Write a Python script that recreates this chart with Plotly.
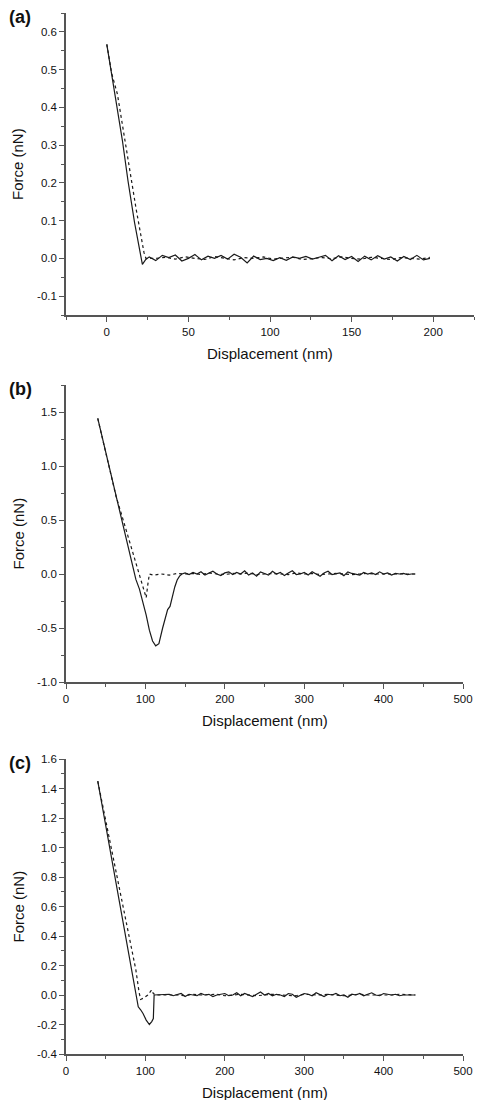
import plotly.graph_objects as go

W, H = 479, 1100

# ---------------- Panel (a) ----------------
a_ret_x = [0, 3, 6, 9.2, 9.6, 13, 17, 21.8, 23.9]
a_ret_y = [0.567, 0.485, 0.405, 0.32, 0.311, 0.205, 0.095, -0.016, -0.003]
a_ret_noise_x0, a_ret_noise_dx = 26, 4
a_ret_noise = [0.004, -0.006, 0.008, 0.002, 0.009, -0.007, 0.000, 0.010, -0.004, 0.006,
               0.000, 0.008, -0.002, 0.011, 0.003, -0.012, 0.006, -0.003, 0.000, -0.006,
               0.002, -0.005, 0.004, 0.000, 0.005, -0.002, 0.003, 0.008, -0.006, 0.007,
               -0.003, 0.005, -0.008, 0.006, -0.004, 0.007, -0.002, 0.004, -0.007, 0.005,
               -0.003, 0.008, -0.004, 0.000]
a_app_x = [0, 3, 6.5, 10, 14, 18, 22.8, 24]
a_app_y = [0.567, 0.49, 0.435, 0.34, 0.235, 0.13, 0.015, 0.0]
a_app_noise_x0, a_app_noise_dx = 30, 6
a_app_noise = [0.000, 0.003, -0.002, 0.004, 0.000, -0.003, 0.005, 0.001, -0.004, 0.002,
               0.000, 0.004, -0.002, 0.001, 0.003, -0.003, 0.000, 0.002, -0.001, 0.004,
               0.000, -0.002, 0.003, 0.000, -0.003, 0.002, 0.001, -0.002, 0.003]

# ---------------- Panel (b) ----------------
b_ret_x = [40, 52, 64, 76, 88, 92.5, 97, 101, 105, 109, 113, 117, 121.7, 126, 128, 131, 134, 137, 140, 143, 146]
b_ret_y = [1.44, 1.07, 0.70, 0.31, -0.05, -0.14, -0.26, -0.38, -0.52, -0.62, -0.665, -0.645, -0.50,
           -0.38, -0.33, -0.30, -0.20, -0.12, -0.055, -0.02, 0.0]
b_ret_noise_x0, b_ret_noise_dx = 150, 5
b_ret_noise = [0.01, -0.005, 0.015, 0.0, 0.02, -0.01, 0.005, 0.025, 0.0, -0.015,
               0.01, 0.02, -0.005, 0.015, 0.0, 0.03, -0.01, 0.01, -0.02, 0.02,
               0.005, -0.01, 0.025, 0.0, 0.015, -0.015, 0.01, 0.03, -0.005, 0.0,
               0.015, -0.01, 0.02, 0.0, -0.02, 0.01, 0.025, -0.005, 0.0, 0.01,
               -0.015, 0.02, 0.005, 0.0, -0.01, 0.015, 0.0, 0.01, -0.005, 0.02,
               0.0, 0.01, -0.01, 0.005, 0.0, 0.005, -0.005, 0.0, 0.0]
b_app_x = [40, 63, 70, 80, 90, 97, 100, 101, 103, 105]
b_app_y = [1.44, 0.72, 0.55, 0.30, 0.05, -0.12, -0.20, -0.22, -0.10, 0.0]
b_app_noise_x0, b_app_noise_dx = 110, 10
b_app_noise = [-0.01, 0.0, -0.01, 0.005, 0.0, 0.005, -0.005, 0.01, 0.0, -0.005,
               0.005, 0.0, 0.01, -0.005, 0.0, 0.005, 0.0, -0.005, 0.01, 0.0,
               0.005, -0.005, 0.0, 0.005, 0.0, -0.005, 0.0, 0.005, 0.0, 0.0,
               0.005, 0.0, 0.0, 0.0]

# ---------------- Panel (c) ----------------
c_ret_x = [40, 50, 60, 70, 80, 89, 91, 94, 97, 101, 105, 108, 110, 111]
c_ret_y = [1.45, 1.15, 0.85, 0.545, 0.24, -0.03, -0.08, -0.10, -0.125, -0.17, -0.20, -0.18, -0.16, 0.0]
c_ret_noise_x0, c_ret_noise_dx = 115, 5
c_ret_noise = [0.0, 0.0, 0.0, 0.005, -0.005, 0.0, 0.01, -0.01, 0.005, 0.0,
               -0.005, 0.01, 0.0, 0.005, -0.01, 0.0, 0.005, 0.01, -0.005, 0.0,
               0.015, -0.005, 0.01, 0.0, -0.01, 0.005, 0.02, 0.0, 0.01, -0.005,
               0.005, 0.0, -0.01, 0.01, 0.005, -0.015, 0.0, 0.01, 0.005, -0.005,
               0.015, 0.0, -0.01, 0.005, 0.0, 0.01, -0.005, 0.0, -0.015, 0.005,
               0.0, 0.01, -0.005, 0.005, 0.015, 0.0, -0.005, 0.01, 0.005, 0.0,
               0.005, -0.005, 0.0, 0.0, 0.0, 0.0]
c_app_x = [40, 50, 60, 70, 80, 88, 92, 94, 98, 103, 108, 110, 113]
c_app_y = [1.45, 1.18, 0.92, 0.655, 0.39, 0.17, 0.02, -0.03, -0.02, 0.0, 0.035, 0.01, 0.0]
c_app_noise_x0, c_app_noise_dx = 120, 10
c_app_noise = [0.0, 0.005, 0.0, -0.005, 0.005, 0.0, 0.0, 0.005, -0.005, 0.0,
               0.005, 0.0, -0.005, 0.0, 0.005, 0.0, 0.0, -0.005, 0.005, 0.0,
               0.0, 0.005, 0.0, -0.005, 0.0, 0.005, 0.0, 0.0, -0.005, 0.0,
               0.005, 0.0, 0.0]

# tick labels
a_xticks = [0, 50, 100, 150, 200]
a_yticks = [-0.1, 0.0, 0.1, 0.2, 0.3, 0.4, 0.5, 0.6]
a_ytext = ["-0.1", "0.0", "0.1", "0.2", "0.3", "0.4", "0.5", "0.6"]
b_xticks = [0, 100, 200, 300, 400, 500]
b_yticks = [-1.0, -0.5, 0.0, 0.5, 1.0, 1.5]
b_ytext = ["-1.0", "-0.5", "0.0", "0.5", "1.0", "1.5"]
c_xticks = [0, 100, 200, 300, 400, 500]
c_yticks = [-0.4, -0.2, 0.0, 0.2, 0.4, 0.6, 0.8, 1.0, 1.2, 1.4, 1.6]
c_ytext = ["-0.4", "-0.2", "0.0", "0.2", "0.4", "0.6", "0.8", "1.0", "1.2", "1.4", "1.6"]

x_title = "Displacement (nm)"
y_title = "Force (nN)"
panel_labels = ["(a)", "(b)", "(c)"]


def with_noise(xs, ys, x0, dx, noise):
    nx = [x0 + dx * i for i in range(len(noise))]
    return list(xs) + nx, list(ys) + list(noise)


LINE_COL = "#1a1a1a"
AX_COL = "#555555"
FONT = "Liberation Sans, Arial, sans-serif"

fig = go.Figure()

panels = [
    (a_ret_x, a_ret_y, a_ret_noise_x0, a_ret_noise_dx, a_ret_noise,
     a_app_x, a_app_y, a_app_noise_x0, a_app_noise_dx, a_app_noise),
    (b_ret_x, b_ret_y, b_ret_noise_x0, b_ret_noise_dx, b_ret_noise,
     b_app_x, b_app_y, b_app_noise_x0, b_app_noise_dx, b_app_noise),
    (c_ret_x, c_ret_y, c_ret_noise_x0, c_ret_noise_dx, c_ret_noise,
     c_app_x, c_app_y, c_app_noise_x0, c_app_noise_dx, c_app_noise),
]

for i, p in enumerate(panels):
    sfx = "" if i == 0 else str(i + 1)
    ax, ay = with_noise(p[5], p[6], p[7], p[8], p[9])
    rx, ry = with_noise(p[0], p[1], p[2], p[3], p[4])
    fig.add_trace(go.Scatter(x=ax, y=ay, mode="lines", xaxis="x" + sfx, yaxis="y" + sfx,
                             line=dict(color=LINE_COL, width=1.2, dash="3px,3px"),
                             showlegend=False, hoverinfo="skip"))
    fig.add_trace(go.Scatter(x=rx, y=ry, mode="lines", xaxis="x" + sfx, yaxis="y" + sfx,
                             line=dict(color=LINE_COL, width=1.2),
                             showlegend=False, hoverinfo="skip"))

# pixel geometry of plot areas (left, right, top, bottom)
geo = [(66, 474, 13, 315), (66, 463, 385, 682), (66, 463, 759, 1054)]
xranges = [[-25, 225], [0, 500], [0, 500]]
yranges = [[-0.15, 0.65], [-1.0, 1.75], [-0.4, 1.6]]
xminor = [25, 50, 50]
yminor = [0.05, 0.25, 0.1]
xticks = [a_xticks, b_xticks, c_xticks]
yticks = [a_yticks, b_yticks, c_yticks]
ytexts = [a_ytext, b_ytext, c_ytext]

axis_common = dict(showline=True, linecolor=AX_COL, linewidth=1.5, ticks="outside",
                   ticklen=5, tickwidth=1.3, tickcolor=AX_COL, showgrid=False,
                   zeroline=False, automargin=False,
                   tickfont=dict(family=FONT, size=11.5, color="#111111"))

layout = dict(width=W, height=H, margin=dict(l=0, r=0, t=0, b=0),
              paper_bgcolor="white", plot_bgcolor="white", showlegend=False)
annotations = []
for i in range(3):
    sfx = "" if i == 0 else str(i + 1)
    l, r, t, b = geo[i]
    layout["xaxis" + sfx] = dict(
        axis_common, domain=[l / W, r / W], range=xranges[i], anchor="y" + sfx,
        tickmode="array", tickvals=xticks[i], ticktext=[str(v) for v in xticks[i]],
        minor=dict(dtick=xminor[i], tick0=0, ticks="outside", ticklen=3, tickcolor=AX_COL,
                   tickwidth=1.2, showgrid=False))
    layout["yaxis" + sfx] = dict(
        axis_common, domain=[1 - b / H, 1 - t / H], range=yranges[i], anchor="x" + sfx,
        tickmode="array", tickvals=yticks[i], ticktext=ytexts[i],
        minor=dict(dtick=yminor[i], tick0=0, ticks="outside", ticklen=3, tickcolor=AX_COL,
                   tickwidth=1.2, showgrid=False))
    annotations.append(dict(text=x_title, xref="paper", yref="paper",
                            x=(l + r) / 2 / W, y=1 - (b + 38) / H, showarrow=False,
                            xanchor="center", yanchor="middle",
                            font=dict(family=FONT, size=15, color="#111111")))
    annotations.append(dict(text=y_title, xref="paper", yref="paper", textangle=-90,
                            x=18 / W, y=1 - (t + b) / 2 / H, showarrow=False,
                            xanchor="center", yanchor="middle",
                            font=dict(family=FONT, size=15, color="#111111")))
    annotations.append(dict(text="<b>" + panel_labels[i] + "</b>", xref="paper", yref="paper",
                            x=20 / W, y=1 - (t + 4) / H, showarrow=False,
                            xanchor="center", yanchor="middle",
                            font=dict(family=FONT, size=18, color="#111111")))

layout["annotations"] = annotations
fig.update_layout(**layout)
fig.write_html("out.html")
